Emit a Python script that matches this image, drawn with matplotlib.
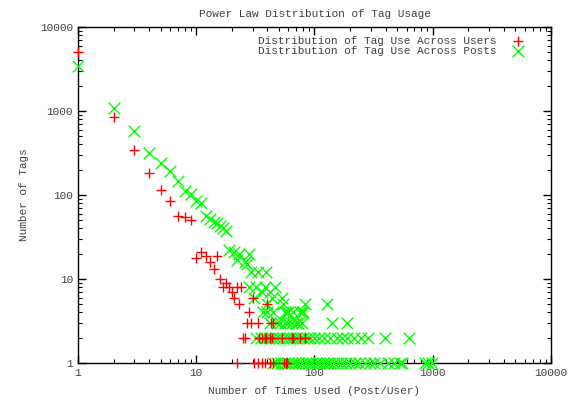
import matplotlib
matplotlib.use("Agg")
import matplotlib.pyplot as plt
from matplotlib.ticker import FixedLocator, LogLocator, NullFormatter

# Tag use across users: (times used, number of tags)
users_x = [1, 2, 3, 4, 5, 6, 7, 8, 9, 10, 11, 12, 13, 14, 15, 16, 17, 18,
           19, 20, 21, 22, 23, 24, 25, 26, 27, 28, 29, 30, 33, 34, 36, 38,
           39, 40, 42, 43, 44, 45, 53, 64, 66, 75, 83,
           22, 31, 33, 36, 38, 42, 45, 55, 57, 59]
users_y = [5100, 860, 345, 183, 116, 84, 56, 54, 51, 18, 21, 19, 16, 13, 19,
           10, 8, 9, 8, 7, 6, 8, 5, 8, 2, 2, 3, 4, 3, 6, 3, 2, 2, 2,
           2, 5, 2, 3, 2, 3, 2, 2, 2, 2, 2,
           1, 1, 1, 1, 1, 1, 1, 1, 1, 1]

# Tag use across posts
posts_x = [1, 2, 3, 4, 5, 6, 7, 8, 9, 10, 11, 12, 13, 14, 15, 16, 17, 18,
           19, 21, 23, 28, 22, 26, 27, 29, 33, 39, 28, 32, 38, 46, 36, 42,
           53, 31, 44, 40, 54, 83, 127, 40, 58, 66, 78, 37, 45, 56, 60, 75,
           80,
           42, 48, 51, 56, 60, 64, 70, 73, 78, 141, 187,
           32, 35, 38, 41, 44, 47, 50, 54, 58, 62, 66, 70, 75, 80, 86, 92,
           100, 110, 120, 135, 154, 170, 190, 215, 245, 284, 394, 633,
           45, 48, 52, 56, 60, 64, 68, 73, 78, 84, 90, 96, 103, 110, 118,
           127, 136, 146, 157, 170, 185, 200, 220, 240, 268, 295, 320, 355,
           417, 470, 525, 545, 860, 920, 980]
posts_y = [3430, 1080, 580, 315, 240, 195, 145, 112, 104, 86, 80, 56, 52,
           48, 46, 43, 40, 37,
           22, 21, 20, 20, 17, 16, 15, 12, 12, 12, 8, 8, 8, 8, 7, 7,
           6, 6, 6, 5, 5, 5, 5, 4, 4, 4, 4, 4, 4, 4, 4, 4,
           4,
           3, 3, 3, 3, 3, 3, 3, 3, 3, 3, 3,
           2, 2, 2, 2, 2, 2, 2, 2, 2, 2, 2, 2, 2, 2, 2, 2,
           2, 2, 2, 2, 2, 2, 2, 2, 2, 2, 2, 2,
           1, 1, 1, 1, 1, 1, 1, 1, 1, 1, 1, 1, 1, 1, 1,
           1, 1, 1, 1, 1, 1, 1, 1, 1, 1, 1, 1, 1,
           1, 1, 1, 1, 1, 1, 1]

decades = [1, 10, 100, 1000, 10000]

plt.rcParams['font.family'] = ['Liberation Mono', 'DejaVu Sans Mono']
text_col = '#404040'

fig = plt.figure(figsize=(5.76, 4.0), dpi=100)
ax = fig.add_axes([0.1354, 0.0925, 0.8212, 0.84])

ax.scatter(posts_x, posts_y, marker='x', s=70, color='#00ff00',
           linewidths=1.0, label='Distribution of Tag Use Across Posts',
           zorder=2, clip_on=False)
ax.scatter(users_x, users_y, marker='+', s=60, color='#ff0000',
           linewidths=1.0, label='Distribution of Tag Use Across Users',
           zorder=3, clip_on=False)

ax.set_xscale('log')
ax.set_yscale('log')
ax.set_xlim(1, 10000)
ax.set_ylim(1, 10000)

for axis in (ax.xaxis, ax.yaxis):
    axis.set_major_locator(FixedLocator(decades))
    axis.set_minor_locator(LogLocator(base=10, subs=range(2, 10)))
    axis.set_minor_formatter(NullFormatter())
ax.set_xticklabels([str(d) for d in decades])
ax.set_yticklabels([str(d) for d in decades])

ax.tick_params(which='both', direction='in', top=True, right=True,
               labelsize=8, labelcolor=text_col, color='black')
ax.tick_params(which='major', length=6, width=1)
ax.tick_params(which='minor', length=3, width=0.8)
for sp in ax.spines.values():
    sp.set_linewidth(1)
    sp.set_zorder(1)

ax.set_title('Power Law Distribution of Tag Usage', fontsize=8,
             color=text_col, pad=7)
ax.set_xlabel('Number of Times Used (Post/User)', fontsize=8,
              color=text_col, labelpad=6)
ax.set_ylabel('Number of Tags', fontsize=8, color=text_col, labelpad=8)

handles, labels = ax.get_legend_handles_labels()
leg = ax.legend(handles[::-1], labels[::-1], loc='upper right',
                bbox_to_anchor=(0.964, 0.987), frameon=False,
                markerfirst=False, fontsize=8, handletextpad=1.0,
                labelspacing=0.05, borderaxespad=0.0, scatterpoints=1)
for t in leg.get_texts():
    t.set_color(text_col)

fig.savefig('out.png', dpi=100)
